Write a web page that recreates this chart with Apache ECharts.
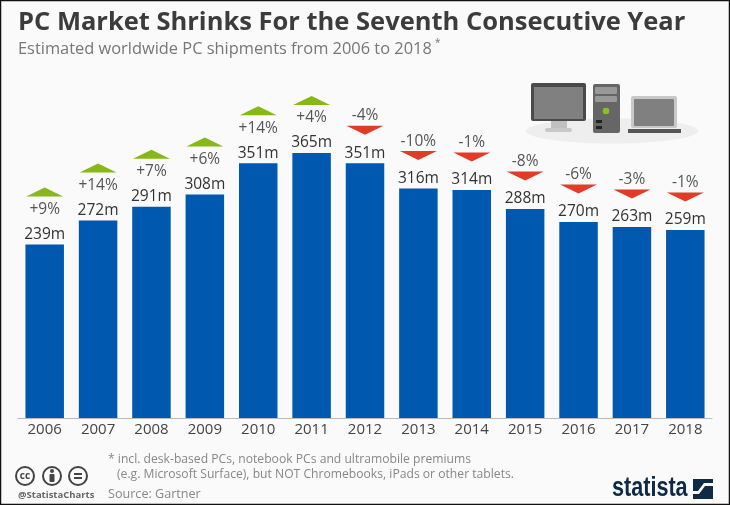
<!DOCTYPE html>
<html>
<head>
<meta charset="utf-8">
<style>html,body{margin:0;padding:0;background:#fafafa}#chart{width:730px;height:505px}</style>
<script src="https://cdn.jsdelivr.net/npm/echarts@6/dist/echarts.min.js"></script>
</head>
<body>
<div id="chart"></div>
<script>
var years = ['2006','2007','2008','2009','2010','2011','2012','2013','2014','2015','2016','2017','2018'];
var shipments = [239,272,291,308,351,365,351,316,314,288,270,263,259];
var changes = [9,14,7,6,14,4,-4,-10,-1,-8,-6,-3,-1];

var font = '"Open Sans"';
var myChart = echarts.init(document.getElementById('chart'));

// 三角形和百分比标签共用的数据
function markerData(up) {
    var res = [];
    for (var i = 0; i < years.length; i++) {
        if ((changes[i] > 0) === up) {
            res.push({ value: [years[i], shipments[i]], change: changes[i] });
        }
    }
    return res;
}

function markerSeries(up) {
    return {
        type: 'scatter',
        data: markerData(up),
        symbol: 'triangle',
        symbolSize: [37, 9],
        symbolRotate: up ? 0 : 180,
        symbolOffset: [0, up ? -52.5 : -33],
        itemStyle: { color: up ? '#86b817' : '#e03c28', opacity: 1 },
        label: {
            show: true,
            position: up ? 'bottom' : 'top',
            distance: up ? 5 : 2,
            fontFamily: font,
            fontSize: 15.5,
            color: '#555',
            rotate: 0,
            formatter: function (p) {
                return (p.data.change > 0 ? '+' : '') + p.data.change + '%';
            }
        },
        silent: true,
        z: 3
    };
}

function rect(x, y, w, h, color, r) {
    return { type: 'rect', shape: { x: x, y: y, width: w, height: h, r: r || 0 }, style: { fill: color } };
}
function text(x, y, str, size, color, weight, align, family) {
    return {
        type: 'text', x: x, y: y,
        style: {
            text: str, fontFamily: family || font, fontSize: size, fill: color,
            fontWeight: weight || 'normal', textAlign: align || 'left', textVerticalAlign: 'middle'
        }
    };
}
function ring(x, y) {
    return { type: 'circle', shape: { cx: x, cy: y, r: 9 }, style: { fill: 'none', stroke: '#444', lineWidth: 2 } };
}

var computers = [
    { type: 'ellipse', shape: { cx: 612, cy: 131, rx: 86, ry: 12.5 }, style: { fill: '#eeeeee' } },
    rect(551, 121, 16, 7, '#c0c0c0'),
    rect(545, 128, 27, 4, '#c8c8c8', 2),
    rect(531, 83, 55, 38, '#4a4a4a', 2),
    rect(534, 87, 49, 32, '#808080'),
    rect(593, 84, 27, 49, '#666666', 2),
    rect(595, 87, 22, 7, '#999999', 1),
    rect(595, 96, 22, 6, '#999999', 1),
    { type: 'circle', shape: { cx: 606, cy: 111, r: 3.3 }, style: { fill: '#8cc020' } },
    rect(596, 120, 6, 3, '#222222'),
    rect(596, 126, 6, 3, '#222222'),
    rect(631, 96, 46, 32, '#c8c8c8', 2),
    rect(634, 99, 40, 27, '#808080', 1),
    rect(628, 129, 53, 4, '#555555')
];

var logoText = text(612, 489, 'statista', 27, '#0f2a45', 'bold', 'left', '"Liberation Sans"');
logoText.scaleX = 0.8;

var footer = [
    text(108, 460, '* incl. desk-based PCs, notebook PCs and ultramobile premiums', 12.15, '#888'),
    text(117, 475, '(e.g. Microsoft Surface), but NOT Chromebooks, iPads or other tablets.', 12.15, '#888'),
    text(108, 494, 'Source: Gartner', 12.6, '#888'),
    text(18, 495, '@StatistaCharts', 9.5, '#666', 'bold'),
    ring(25, 476), ring(52, 476), ring(78, 476),
    text(25, 476, 'cc', 10, '#444', 'bold', 'center'),
    { type: 'circle', shape: { cx: 52, cy: 471, r: 2 }, style: { fill: '#444' } },
    rect(49.5, 474, 5, 8, '#444', 1),
    rect(74, 473, 8, 2, '#444'),
    rect(74, 477, 8, 2, '#444'),
    logoText,
    rect(693, 479, 20, 20, '#0f2a45'),
    { type: 'polygon', shape: { points: [[693, 494], [699, 494], [705, 486], [713, 486], [713, 483], [704, 483], [698, 491], [693, 491]] }, style: { fill: '#fafafa' } }
];

var frame = { type: 'rect', shape: { x: 0.5, y: 0.5, width: 729, height: 504 }, style: { fill: 'none', stroke: '#111', lineWidth: 1.5 }, z: 100 };
var star = text(435, 43, '*', 10, '#777');

var viewoption = {
    backgroundColor: '#fafafa',
    animation: false,
    title: {
        text: 'PC Market Shrinks For the Seventh Consecutive Year',
        subtext: 'Estimated worldwide PC shipments from 2006 to 2018',
        left: 18 - 5,
        top: 5,
        itemGap: 5,
        textStyle: { fontFamily: font, fontSize: 25.5, fontWeight: 'bold', color: '#3c3c3c' },
        subtextStyle: { fontFamily: font, fontSize: 16.4, color: '#777' }
    },
    grid: { left: 18, width: 694, top: 55, bottom: 87 },
    xAxis: {
        type: 'category',
        data: years,
        axisTick: { show: false },
        axisLine: { lineStyle: { color: '#bbb', width: 1 } },
        axisLabel: { fontFamily: font, fontSize: 15, color: '#444', margin: 4 }
    },
    yAxis: { type: 'value', min: 0, max: 500, show: false },
    series: [
        {
            type: 'bar',
            data: shipments,
            barWidth: 38.5,
            itemStyle: { color: '#0059ae' },
            label: {
                show: true,
                position: 'top',
                distance: 2,
                fontFamily: font,
                fontSize: 15.5,
                color: '#333',
                formatter: '{c}m'
            },
            silent: true
        },
        markerSeries(true),
        markerSeries(false)
    ],
    graphic: { elements: computers.concat(footer, [star, frame]) }
};
myChart.setOption(viewoption);
</script>
</body>
</html>
